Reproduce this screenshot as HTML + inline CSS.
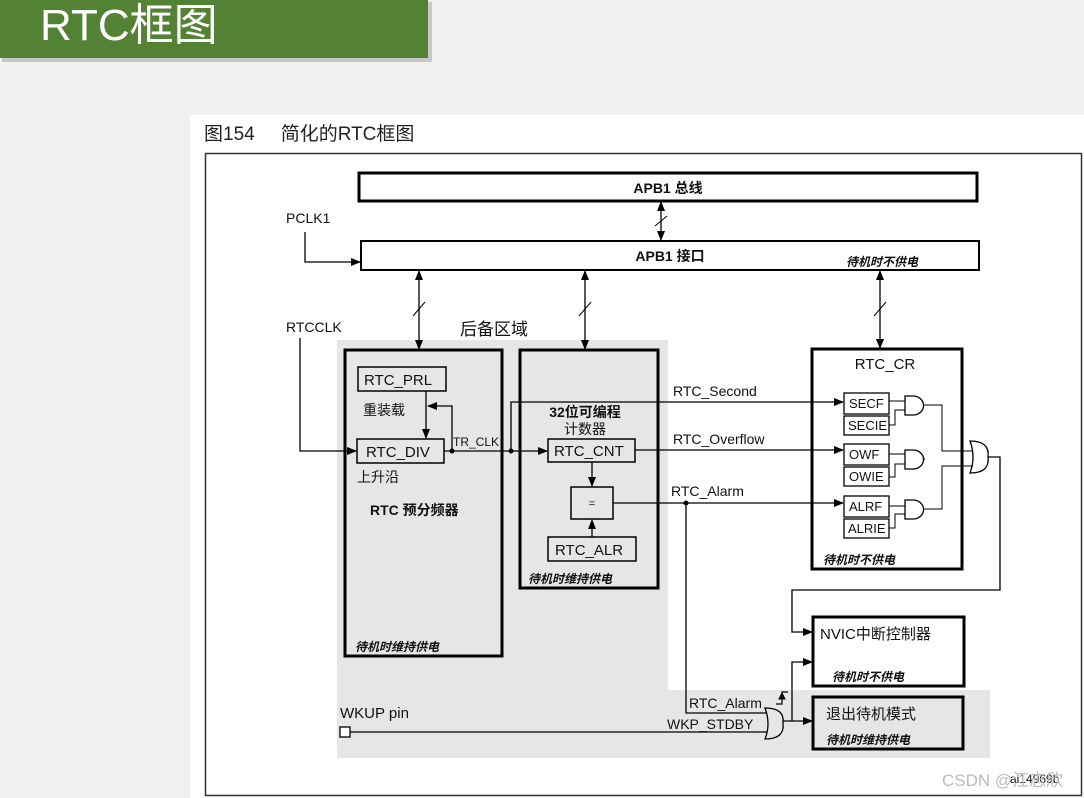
<!DOCTYPE html>
<html><head><meta charset="utf-8"><style>
html,body{margin:0;padding:0;width:1084px;height:798px;overflow:hidden;background:#f0f0f0;}
</style></head><body>
<svg width="1084" height="798" xmlns="http://www.w3.org/2000/svg" font-family="Liberation Sans, Noto Sans CJK SC, sans-serif">
<defs>
<marker id="a" markerWidth="10" markerHeight="8" refX="9" refY="4" orient="auto" markerUnits="userSpaceOnUse"><path d="M0,0 L10,4 L0,8 z" fill="#000"/></marker>
<marker id="s" markerWidth="10" markerHeight="8" refX="1" refY="4" orient="auto" markerUnits="userSpaceOnUse"><path d="M10,0 L0,4 L10,8 z" fill="#000"/></marker>
</defs>
<rect x="0" y="0" width="1084" height="798" fill="#f0f0f0"/>
<rect x="2" y="2" width="430" height="60" fill="#c8c8c8"/>
<rect x="0" y="0" width="428" height="58" fill="#548235"/>
<text x="40" y="40" font-size="44" fill="#fff" font-family="Liberation Sans, Noto Sans CJK SC, sans-serif">RTC框图</text>
<rect x="190" y="115" width="894" height="683" fill="#fff"/>
<text x="204" y="140" font-size="19" fill="#222">图154<tspan dx="26">简化的RTC框图</tspan></text>
<rect x="205.5" y="153.5" width="876" height="642" fill="none" stroke="#333" stroke-width="1.5"/>
<polygon points="337,340 668,340 668,690 990,690 990,758 337,758" fill="#e6e6e6"/>
<g stroke="#000" fill="none">
<rect x="359" y="173" width="618" height="28" stroke-width="3" fill="#fff"/>
<rect x="361" y="241" width="618" height="29" stroke-width="2" fill="#fff"/>
<line x1="661" y1="202" x2="661" y2="240" stroke-width="1.3" marker-start="url(#s)" marker-end="url(#a)"/>
<line x1="655" y1="226" x2="667" y2="216" stroke-width="1"/>
<line x1="419" y1="271" x2="419" y2="349" stroke-width="1.3" marker-start="url(#s)" marker-end="url(#a)"/>
<line x1="413" y1="316" x2="425" y2="302" stroke-width="1"/>
<line x1="585" y1="271" x2="585" y2="349" stroke-width="1.3" marker-start="url(#s)" marker-end="url(#a)"/>
<line x1="579" y1="316" x2="591" y2="302" stroke-width="1"/>
<line x1="880" y1="271" x2="880" y2="348" stroke-width="1.3" marker-start="url(#s)" marker-end="url(#a)"/>
<line x1="874" y1="316" x2="886" y2="302" stroke-width="1"/>
<polyline points="305,232 305,262 360,262" stroke-width="1.3" marker-end="url(#a)"/>
<polyline points="300,338 300,451 356,451" stroke-width="1.3" marker-end="url(#a)"/>
<rect x="345" y="350" width="157" height="306" stroke-width="3"/>
<rect x="520" y="350" width="138" height="238" stroke-width="3"/>
<rect x="812" y="349" width="150" height="220" stroke-width="3" fill="#fff"/>
<rect x="813" y="617" width="151" height="69" stroke-width="3" fill="#fff"/>
<rect x="813" y="697" width="150" height="52" stroke-width="3" fill="#e6e6e6"/>
<rect x="358" y="367" width="88" height="24" stroke-width="1.5"/>
<rect x="357" y="439" width="87" height="24" stroke-width="1.5"/>
<rect x="548" y="439" width="87" height="23" stroke-width="1.5"/>
<rect x="571" y="487" width="42" height="32" stroke-width="1.5"/>
<rect x="548" y="537" width="88" height="24" stroke-width="1.5"/>
<line x1="426" y1="391" x2="426" y2="438" stroke-width="1.3" marker-end="url(#a)"/>
<polyline points="452,451 452,406 428,406" stroke-width="1.3" marker-end="url(#a)"/>
<line x1="444" y1="451" x2="547" y2="451" stroke-width="1.3" marker-end="url(#a)"/>
<polyline points="511,451 511,402 843,402" stroke-width="1.3" marker-end="url(#a)"/>
<line x1="592" y1="462" x2="592" y2="486" stroke-width="1.3" marker-end="url(#a)"/>
<line x1="592" y1="537" x2="592" y2="520" stroke-width="1.3" marker-end="url(#a)"/>
<line x1="635" y1="450" x2="843" y2="450" stroke-width="1.3" marker-end="url(#a)"/>
<line x1="613" y1="503" x2="843" y2="503" stroke-width="1.3" marker-end="url(#a)"/>
<rect x="844" y="393" width="45" height="21" stroke-width="1.3" fill="#fff"/>
<rect x="844" y="416" width="45" height="19" stroke-width="1.3" fill="#fff"/>
<rect x="844" y="444" width="45" height="21" stroke-width="1.3" fill="#fff"/>
<rect x="844" y="467" width="45" height="19" stroke-width="1.3" fill="#fff"/>
<rect x="844" y="496" width="45" height="21" stroke-width="1.3" fill="#fff"/>
<rect x="844" y="519" width="45" height="19" stroke-width="1.3" fill="#fff"/>
<path d="M905,396 h8 a10,9 0 0 1 0,19 h-8 z" stroke-width="1.3"/>
<path d="M905,450 h8 a10,9 0 0 1 0,19 h-8 z" stroke-width="1.3"/>
<path d="M905,500 h8 a10,9 0 0 1 0,19 h-8 z" stroke-width="1.3"/>
<line x1="889" y1="401" x2="905" y2="401"/><polyline points="889,425 895,425 895,410 905,410"/>
<line x1="889" y1="454" x2="905" y2="454"/><polyline points="889,477 895,477 895,464 905,464"/>
<line x1="889" y1="506" x2="905" y2="506"/><polyline points="889,528 895,528 895,514 905,514"/>
<path d="M970,441 q20,0 18,16 q2,16 -18,16 q6,-16 0,-32 z" stroke-width="1.3"/>
<polyline points="923,405 942,405 942,451 973,451"/>
<polyline points="923,459 925,459"/>
<polyline points="923,509 942,509 942,466 973,466"/>
<polyline points="988,457 1000,457 1000,590 792,590 792,632 812,632" stroke-width="1.3" marker-end="url(#a)"/>
<circle cx="452" cy="451" r="2" fill="#000"/>
<circle cx="511" cy="451" r="2" fill="#000"/>
<circle cx="686" cy="503" r="2" fill="#000"/>
<polyline points="686,503 686,713 768,713" stroke-width="1.3"/>
<rect x="340" y="727" width="10" height="10" stroke-width="1.3" fill="#fff"/>
<line x1="350" y1="732" x2="768" y2="732" stroke-width="1.3"/>
<path d="M765,708 q20,0 18,15 q2,16 -18,16 q6,-15 0,-31 z" stroke-width="1.3" fill="#e6e6e6"/>
<line x1="783" y1="721" x2="812" y2="721" stroke-width="1.3" marker-end="url(#a)"/>
<polyline points="792,721 792,662 812,662" stroke-width="1.3" marker-end="url(#a)"/>
<polyline points="776,704 782,704 782,692 788,692" stroke-width="1.2"/>
<path d="M779,699 l3,-6 l3,6 z" fill="#000"/>
</g>
<g font-size="14" fill="#111">
<text x="286" y="223">PCLK1</text>
<text x="286" y="332">RTCCLK</text>
<text x="668" y="193" text-anchor="middle" font-weight="bold">APB1 总线</text>
<text x="670" y="261" text-anchor="middle" font-weight="bold">APB1 接口</text>
<text x="846" y="266" font-size="12" font-style="italic" font-weight="bold">待机时不供电</text>
<text x="460" y="335" font-size="17">后备区域</text>
<text x="364" y="385" font-size="15">RTC_PRL</text>
<text x="363" y="415">重装载</text>
<text x="366" y="457" font-size="15">RTC_DIV</text>
<text x="453" y="446" font-size="12">TR_CLK</text>
<text x="357" y="482">上升沿</text>
<text x="370" y="515" font-weight="bold">RTC 预分频器</text>
<text x="355" y="651" font-size="12" font-style="italic" font-weight="bold">待机时维持供电</text>
<text x="585" y="417" text-anchor="middle" font-weight="bold">32位可编程</text>
<text x="585" y="434" text-anchor="middle">计数器</text>
<text x="554" y="456" font-size="15">RTC_CNT</text>
<text x="592" y="507" font-size="11" text-anchor="middle">=</text>
<text x="555" y="555" font-size="15">RTC_ALR</text>
<text x="528" y="583" font-size="12" font-style="italic" font-weight="bold">待机时维持供电</text>
<text x="673" y="396">RTC_Second</text>
<text x="673" y="444">RTC_Overflow</text>
<text x="671" y="496">RTC_Alarm</text>
<text x="885" y="369" text-anchor="middle" font-size="15">RTC_CR</text>
<text x="849" y="408" font-size="13">SECF</text>
<text x="848" y="430" font-size="13">SECIE</text>
<text x="849" y="459" font-size="13">OWF</text>
<text x="849" y="481" font-size="13">OWIE</text>
<text x="849" y="511" font-size="13">ALRF</text>
<text x="848" y="533" font-size="13">ALRIE</text>
<text x="823" y="564" font-size="12" font-style="italic" font-weight="bold">待机时不供电</text>
<text x="820" y="639" font-size="15">NVIC中断控制器</text>
<text x="832" y="681" font-size="12" font-style="italic" font-weight="bold">待机时不供电</text>
<text x="826" y="719" font-size="15">退出待机模式</text>
<text x="826" y="744" font-size="12" font-style="italic" font-weight="bold">待机时维持供电</text>
<text x="340" y="718" font-size="15">WKUP pin</text>
<text x="689" y="708">RTC_Alarm</text>
<text x="667" y="729">WKP_STDBY</text>
<text x="1010" y="783" font-size="12">ai14969b</text>
<text x="942" y="786" font-size="17" fill="#bbb">CSDN @江志欣</text>
</g>
</svg>
</body></html>
